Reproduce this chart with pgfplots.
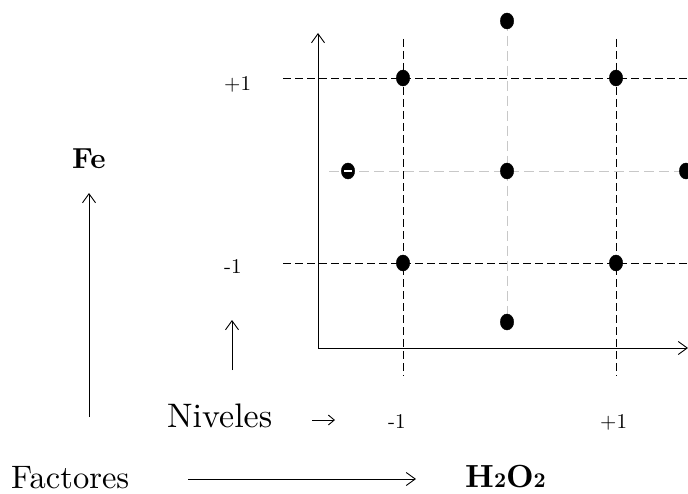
\documentclass[border=0pt]{standalone}
\usepackage{fontspec}
\setmainfont{lmroman10-regular.otf}[BoldFont=lmroman10-bold.otf]
\usepackage{pgfplots}
\pgfplotsset{compat=1.18}
\usetikzlibrary{arrows.meta}
\definecolor{lg}{RGB}{200,200,200}
\newcommand{\sml}{\fontsize{21bp}{25bp}\selectfont}
\begin{document}
\begin{tikzpicture}
\begin{axis}[name=ax, scale only axis, width=688bp, height=494bp,
  xmin=0, xmax=688, ymin=0, ymax=494, y dir=reverse, hide axis, clip=true]
% axes of the design
\addplot[black, line width=0.9bp, -{Straight Barb[length=9bp,width=13bp]}] coordinates {(318,348) (318,33)};
\addplot[black, line width=0.9bp, -{Straight Barb[length=9bp,width=13bp]}] coordinates {(318,348) (688,348)};
% black dashed lines (levels -1, +1)
\addplot[black, line width=0.9bp, dash pattern=on 8bp off 4bp] coordinates {(283,78) (688,78)};
\addplot[black, line width=0.9bp, dash pattern=on 8bp off 4bp] coordinates {(283,263) (688,263)};
\addplot[black, line width=0.9bp, dash pattern=on 8bp off 4bp] coordinates {(403,39) (403,376)};
\addplot[black, line width=0.9bp, dash pattern=on 8bp off 4bp] coordinates {(616,39) (616,376)};
% grey dashed central lines
\addplot[lg, line width=0.9bp, dash pattern=on 10bp off 5bp] coordinates {(329,171) (688,171)};
\addplot[lg, line width=0.9bp, dash pattern=on 10bp off 5bp] coordinates {(507,21) (507,322)};
% design points
\addplot[only marks, mark=*, mark size=8bp, mark options={xscale=0.84, fill=black, draw=black}]
  coordinates {(403,78) (616,78) (403,263) (616,263) (507,171) (348,171) (686,171) (507,21) (507,322)};
\addplot[only marks, mark=-, mark size=4bp, mark options={white, line width=1.2bp}] coordinates {(348,171)};
% side arrows
\addplot[black, line width=0.9bp, -{Straight Barb[length=9bp,width=13bp]}] coordinates {(89,417) (89,193)};
\addplot[black, line width=0.9bp, -{Straight Barb[length=9bp,width=13bp]}] coordinates {(232,370) (232,320)};
\addplot[black, line width=0.9bp, -{Straight Barb[length=6bp,width=10bp]}] coordinates {(312,420) (335,420)};
\addplot[black, line width=0.9bp, -{Straight Barb[length=9bp,width=13bp]}] coordinates {(188,479) (416,479)};
% labels
\node[anchor=base west, inner sep=0pt] at (axis cs:224,91) {\sml +1};
\node[anchor=base west, inner sep=0pt] at (axis cs:224,273) {\sml -1};
\node[anchor=base west, inner sep=0pt] at (axis cs:388,428) {\sml -1};
\node[anchor=base west, inner sep=0pt] at (axis cs:600,428) {\sml +1};
\node[anchor=base west, inner sep=0pt] at (axis cs:72,168) {\fontsize{29bp}{34bp}\selectfont\bfseries Fe};
\node[anchor=base west, inner sep=0pt] at (axis cs:167,427) {\fontsize{34bp}{40bp}\selectfont Niveles};
\node[anchor=base west, inner sep=0pt] at (axis cs:11,488) {\fontsize{32.5bp}{38bp}\selectfont Factores};
\node[anchor=base west, inner sep=0pt] at (axis cs:465,487) {\fontsize{32bp}{38bp}\selectfont\bfseries H{\fontsize{21bp}{25bp}\selectfont 2}O{\fontsize{21bp}{25bp}\selectfont 2}};
\end{axis}
\pgfresetboundingbox
\useasboundingbox (ax.south west) rectangle (ax.north east);
\end{tikzpicture}
\end{document}
